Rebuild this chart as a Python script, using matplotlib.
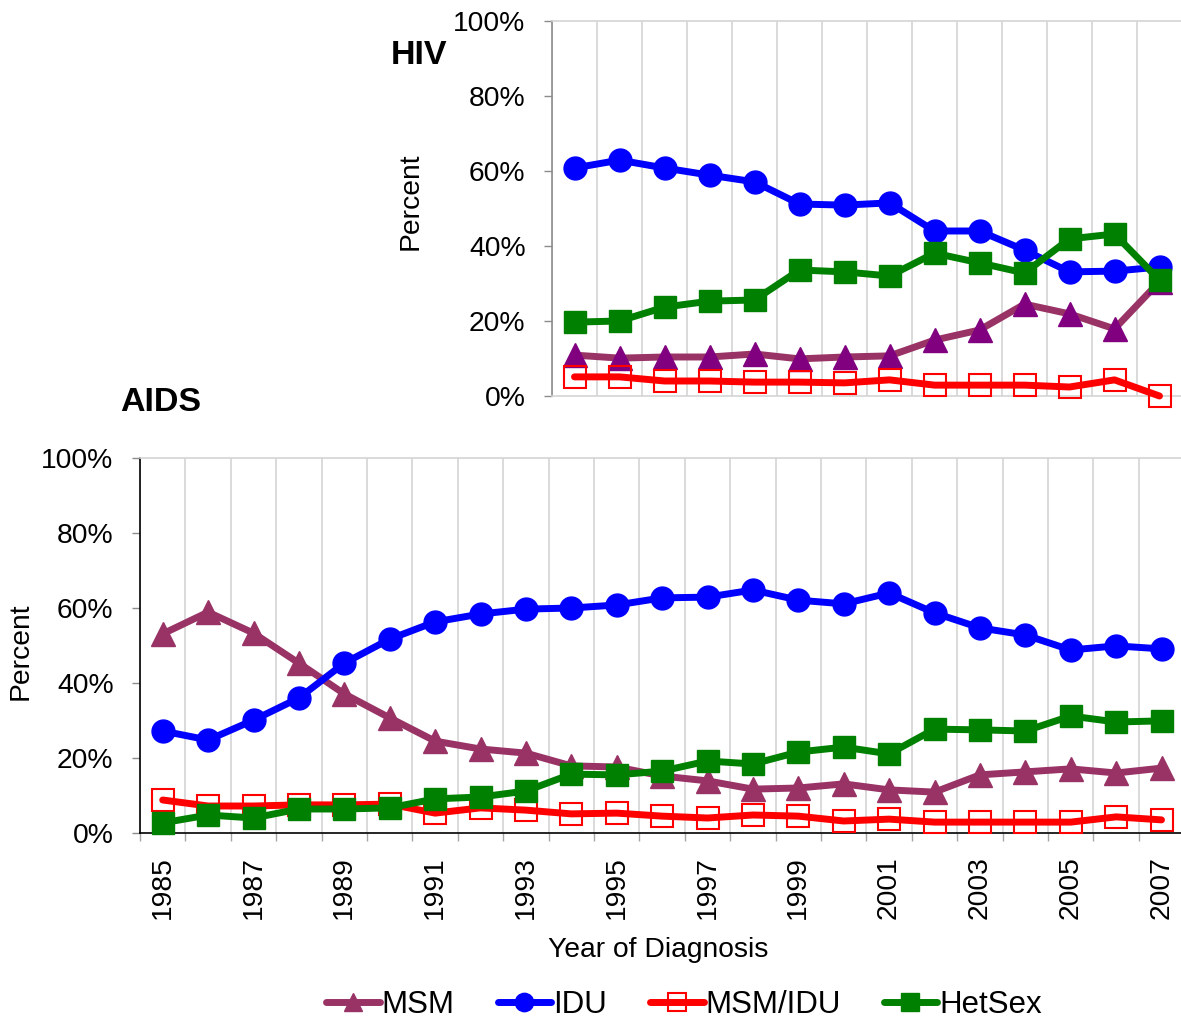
import matplotlib
matplotlib.use("Agg")
import matplotlib.pyplot as plt
from matplotlib.ticker import FuncFormatter, FixedLocator, NullFormatter
import numpy as np

plt.rcParams['font.family'] = ['Liberation Sans', 'DejaVu Sans']

# ---------------- data ----------------
hiv_years = list(range(1994, 2008))
hiv_msm = [10.9, 10.1, 10.4, 10.4, 11.2, 9.9, 10.4, 10.7, 14.9, 17.6, 24.5, 21.9, 17.9, 30.5]
hiv_idu = [60.8, 62.9, 60.8, 58.9, 57.1, 51.2, 50.9, 51.5, 44.0, 44.0, 38.9, 33.1, 33.3, 34.4]
hiv_msmidu = [5.1, 5.1, 4.0, 4.0, 3.7, 3.7, 3.5, 4.3, 2.9, 2.9, 2.9, 2.4, 4.3, 0.0]
hiv_het = [19.7, 20.0, 23.7, 25.3, 25.6, 33.6, 33.1, 32.0, 38.1, 35.5, 32.8, 41.9, 43.2, 30.9]

aids_years = list(range(1985, 2008))
aids_msm = [53.1, 58.9, 53.3, 45.3, 37.1, 30.7, 24.5, 22.4, 21.3, 17.9, 17.6, 15.2,
            13.9, 11.7, 12.0, 13.1, 11.5, 10.9, 15.5, 16.3, 17.1, 16.0, 17.3]
aids_idu = [27.2, 24.8, 30.1, 36.0, 45.3, 51.7, 56.3, 58.4, 59.7, 60.0, 60.8, 62.7,
            62.9, 64.8, 62.1, 61.1, 64.0, 58.7, 54.7, 52.8, 48.8, 49.9, 49.1]
aids_msmidu = [8.8, 7.2, 7.2, 7.5, 7.5, 7.7, 5.3, 6.7, 6.1, 5.1, 5.3, 4.5,
               4.0, 4.8, 4.5, 3.2, 3.7, 2.9, 2.9, 2.9, 2.9, 4.3, 3.5]
aids_het = [2.7, 4.8, 4.0, 6.4, 6.4, 6.7, 9.1, 9.6, 11.2, 15.7, 15.5, 16.5,
            19.2, 18.4, 21.6, 22.9, 21.1, 27.7, 27.5, 27.2, 31.2, 29.6, 29.9]

series_names = ["MSM", "IDU", "MSM/IDU", "HetSex"]

# ---------------- styles ----------------
C_MSM = "#993366"
C_MSM_TOP = "#800080"
C_IDU = "#0000FF"
C_MI = "#FF0000"
C_HET = "#008000"
LW = 5

W, H = 1181, 1021
fig = plt.figure(figsize=(W / 100, H / 100), dpi=100)

def fx(px):
    return px / W

def fy(py):
    return 1 - py / H

pct = FuncFormatter(lambda v, p: f"{int(round(v))}%")


def style_axes(ax, n, left_color):
    ax.set_xlim(-0.5, n - 0.5)
    ax.set_ylim(0, 100)
    ax.set_yticks([0, 20, 40, 60, 80, 100])
    ax.yaxis.set_major_formatter(pct)
    ax.tick_params(axis='y', which='both', direction='out', length=6, width=1,
                   color='#8c8c8c', labelsize=20.3, pad=13)
    ax.xaxis.set_minor_locator(FixedLocator(np.arange(-0.5, n, 1.0)))
    ax.grid(which='minor', axis='x', color='#d4d4d4', linewidth=1.2)
    ax.grid(which='major', axis='both', visible=False)
    ax.set_axisbelow(True)
    ax.spines['right'].set_visible(False)
    ax.spines['top'].set_color('#d4d4d4')
    ax.spines['top'].set_linewidth(1.2)
    ax.spines['left'].set_color(left_color)
    ax.spines['left'].set_linewidth(1.2)


def draw(ax, x, msm, idu, mi, het, msm_mcolor):
    h1, = ax.plot(x, msm, color=C_MSM, lw=LW, marker='^', ms=17,
                  mfc=msm_mcolor, mec=msm_mcolor, label=series_names[0], zorder=3)
    h2, = ax.plot(x, idu, color=C_IDU, lw=LW, marker='o', ms=16.5,
                  mfc=C_IDU, mec=C_IDU, label=series_names[1], zorder=4)
    h3, = ax.plot(x, mi, color=C_MI, lw=LW, marker='s', ms=15.5,
                  mfc='none', mec=C_MI, mew=1.5, label=series_names[2], zorder=5)
    h4, = ax.plot(x, het, color=C_HET, lw=LW, marker='s', ms=16,
                  mfc=C_HET, mec=C_HET, label=series_names[3], zorder=6)
    for h in (h1, h2, h3, h4):
        h.set_clip_on(False)
        h.set_solid_capstyle('round')
        h.set_solid_joinstyle('round')
    return [h1, h2, h3, h4]

# ---------------- HIV (top) ----------------
n_top = len(hiv_years)
top_w = n_top * 45.0
ax1 = fig.add_axes([fx(552), fy(396), fx(552 + top_w) - fx(552), fy(21) - fy(396)])
style_axes(ax1, n_top, '#8c8c8c')
ax1.spines['bottom'].set_color('#d4d4d4')
ax1.spines['bottom'].set_linewidth(1.2)
xt = np.arange(n_top)
draw(ax1, xt, hiv_msm, hiv_idu, hiv_msmidu, hiv_het, C_MSM_TOP)
ax1.set_xticks(xt)
ax1.xaxis.set_major_formatter(NullFormatter())
ax1.tick_params(axis='x', which='both', length=0)
ax1.set_ylabel("Percent", fontsize=20.3)
ax1.yaxis.set_label_coords((424 - 552) / top_w, 0.52)
fig.text(fx(419), fy(55), "HIV", fontsize=24.5, fontweight='bold', ha='center', va='center')

# ---------------- AIDS (bottom) ----------------
n_bot = len(aids_years)
bot_w = n_bot * 45.4
ax2 = fig.add_axes([fx(140), fy(833), fx(140 + bot_w) - fx(140), fy(458) - fy(833)])
style_axes(ax2, n_bot, 'black')
ax2.spines['bottom'].set_color('black')
ax2.spines['bottom'].set_linewidth(1.2)
xb = np.arange(n_bot)
handles = draw(ax2, xb, aids_msm, aids_idu, aids_msmidu, aids_het, C_MSM)
ax2.set_xticks(xb[::2])
ax2.set_xticklabels([str(y) for y in aids_years[::2]], rotation=90, fontsize=20.3)
ax2.tick_params(axis='x', which='major', length=0, pad=16.5)
ax2.tick_params(axis='x', which='minor', direction='out', length=6, width=1, color='#a6a6a6')
ax2.set_ylabel("Percent", fontsize=20.3)
ax2.yaxis.set_label_coords((34 - 140) / bot_w, 0.4835)
fig.text(fx(658), fy(950), "Year of Diagnosis", fontsize=20.3, ha='center', va='center')
fig.text(fx(161), fy(402), "AIDS", fontsize=24.5, fontweight='bold', ha='center', va='center')

# ---------------- legend ----------------
fig.legend(handles, series_names, loc='center', bbox_to_anchor=(fx(684), fy(1005)),
           ncol=4, frameon=False, fontsize=22.5, handlelength=1.72, handletextpad=0.06,
           columnspacing=1.37, markerscale=0.8, borderpad=0.1)

fig.savefig("out.png", dpi=100)
